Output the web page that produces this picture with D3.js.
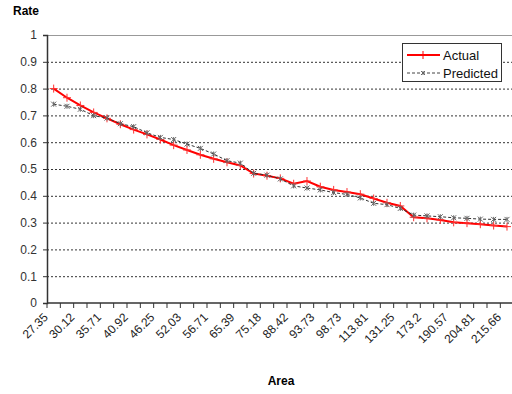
<!DOCTYPE html>
<html><head><meta charset="utf-8">
<script src="https://cdn.jsdelivr.net/npm/d3@7"></script>
<style>
html,body{margin:0;padding:0;background:#fff;}
svg{display:block;font-family:"Liberation Sans",Arial,sans-serif;}
</style></head>
<body><svg id="c" width="512" height="394"></svg>
<script>
// Categories (Area); every other one is labelled on the axis
const categories = [27.35,28.9,30.12,33.4,35.71,38.2,40.92,43.6,46.25,49.1,52.03,54.5,56.71,61.2,65.39,70.3,75.18,81.6,88.42,91.2,93.73,96.4,98.73,105.9,113.81,122.4,131.25,152.3,173.2,181.6,190.57,197.5,204.81,210.2,215.66];
const actual = [0.800,0.766,0.737,0.711,0.689,0.667,0.647,0.629,0.610,0.589,0.571,0.553,0.538,0.525,0.513,0.483,0.475,0.465,0.445,0.455,0.434,0.422,0.414,0.406,0.390,0.374,0.362,0.320,0.316,0.310,0.301,0.298,0.294,0.289,0.285];
const predicted = [0.742,0.734,0.723,0.699,0.690,0.669,0.658,0.635,0.618,0.610,0.593,0.577,0.556,0.531,0.522,0.484,0.477,0.463,0.437,0.429,0.422,0.412,0.405,0.392,0.372,0.367,0.353,0.328,0.325,0.322,0.318,0.316,0.313,0.312,0.312];
const yTicks = [0,0.1,0.2,0.3,0.4,0.5,0.6,0.7,0.8,0.9,1];
const seriesNames = ["Actual","Predicted"];

const svg = d3.select("#c");
const pLeft = 47, pTop = 35, pBottom = 303, step = 13.333;
const x = d3.scaleBand().domain(categories.map(String)).range([pLeft, pLeft + step*categories.length]).padding(0);
const y = d3.scaleLinear().domain([0,1]).range([pBottom, pTop]);
const cx = (c) => x(String(c)) + x.bandwidth()/2;

// gridlines
svg.append("g").selectAll("line").data(yTicks.filter(t => t > 0 && t < 1)).join("line")
  .attr("x1", pLeft).attr("x2", 512).attr("y1", d => y(d)+0.5).attr("y2", d => y(d)+0.5)
  .attr("stroke", "#333").attr("stroke-width", 1).attr("stroke-dasharray", "2,2");
svg.append("line").attr("x1", pLeft).attr("x2", 512).attr("y1", y(1)+0.5).attr("y2", y(1)+0.5)
  .attr("stroke", "#999").attr("stroke-width", 1);

// y axis
const ya = svg.append("g").attr("transform", `translate(${pLeft},0)`)
  .call(d3.axisLeft(y).tickValues(yTicks).tickSize(4).tickPadding(6).tickFormat(d => String(d)));
ya.select(".domain").attr("stroke", "#333").attr("stroke-width", 1.5);
ya.selectAll(".tick line").attr("stroke", "#333");
ya.selectAll(".tick text").attr("font-size", 12).attr("fill", "#333").attr("font-family", "Liberation Sans, Arial, sans-serif");

// x axis
svg.append("line").attr("x1", pLeft).attr("x2", 512).attr("y1", pBottom).attr("y2", pBottom)
  .attr("stroke", "#333").attr("stroke-width", 1.5);
svg.append("g").selectAll("line").data(categories).join("line")
  .attr("x1", d => x(String(d))).attr("x2", d => x(String(d)))
  .attr("y1", pBottom).attr("y2", pBottom + 5).attr("stroke", "#333");
svg.append("g").selectAll("text").data(categories.filter((d,i) => i % 2 === 0)).join("text")
  .attr("transform", d => `translate(${cx(d) - 5},${pBottom + 15}) rotate(-45)`)
  .attr("text-anchor", "end").attr("font-size", 12).attr("fill", "#222")
  .text(d => String(d));

// titles
svg.append("text").attr("x", 13).attr("y", 15).attr("font-size", 12).attr("font-weight", "bold").text("Rate");
svg.append("text").attr("x", 281).attr("y", 385).attr("text-anchor", "middle").attr("font-size", 12).attr("font-weight", "bold").text("Area");

// series
const line = d3.line().x((d,i) => cx(categories[i])).y(d => y(d));
svg.append("path").datum(actual).attr("d", line).attr("fill", "none").attr("stroke", "#ff0000").attr("stroke-width", 2);
svg.append("g").selectAll("path").data(actual).join("path")
  .attr("d", (d,i) => { const px = cx(categories[i]), py = y(d); return `M${px-4},${py}H${px+4}M${px},${py-4}V${py+4}`; })
  .attr("stroke", "#ff3030").attr("stroke-width", 1);

svg.append("path").datum(predicted).attr("d", line).attr("fill", "none").attr("stroke", "#333").attr("stroke-width", 1).attr("stroke-dasharray", "3,2");
const star = (px, py, s) => `M${px-s},${py-s}L${px+s},${py+s}M${px-s},${py+s}L${px+s},${py-s}M${px},${py-s}V${py+s}`;
svg.append("g").selectAll("path").data(predicted).join("path")
  .attr("d", (d,i) => star(cx(categories[i]), y(d), 2.5))
  .attr("stroke", "#666").attr("stroke-width", 1).attr("fill", "none");

// legend
const lg = svg.append("g");
lg.append("rect").attr("x", 402.5).attr("y", 43.5).attr("width", 99).attr("height", 38).attr("fill", "#fff").attr("stroke", "#333");
lg.append("line").attr("x1", 407).attr("x2", 440).attr("y1", 55).attr("y2", 55).attr("stroke", "#ff0000").attr("stroke-width", 2);
lg.append("path").attr("d", "M423,51V59").attr("stroke", "#ff0000");
lg.append("line").attr("x1", 407).attr("x2", 440).attr("y1", 73).attr("y2", 73).attr("stroke", "#444").attr("stroke-dasharray", "3,2");
lg.append("path").attr("d", star(423, 73, 2)).attr("stroke", "#666").attr("fill", "none");
lg.selectAll("text.l").data(seriesNames).join("text").attr("class", "l")
  .attr("x", 443).attr("y", (d,i) => 59.5 + i*18).attr("font-size", 13).attr("fill", "#111").text(d => d);
</script></body></html>
